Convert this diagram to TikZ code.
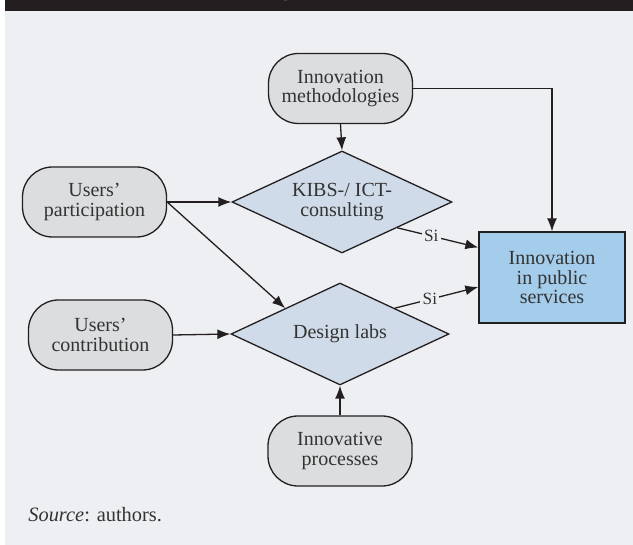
\documentclass[tikz,border=0pt]{standalone}
\usepackage{fontspec}
\setmainfont{Liberation Serif}
\usetikzlibrary{shapes.geometric,arrows.meta,calc}

\definecolor{panel}{RGB}{238,239,243}
\definecolor{ink}{RGB}{35,31,32}
\definecolor{inputfill}{RGB}{220,221,223}
\definecolor{decfill}{RGB}{208,219,233}
\definecolor{outfill}{RGB}{164,204,235}
\definecolor{txt}{RGB}{51,51,51}

\tikzset{
  inputbox/.style={draw=ink, line width=0.65pt, fill=inputfill, rounded corners=15pt,
    minimum width=72pt, minimum height=35pt, inner sep=0pt, align=center,
    text=txt, font=\fontsize{10}{9.6}\selectfont},
  decision/.style={draw=ink, line width=0.65pt, fill=decfill, diamond, aspect=2.1,
    minimum width=109pt, minimum height=51pt, inner sep=0pt, align=center,
    text=txt, font=\fontsize{10}{9.6}\selectfont},
  outcome/.style={draw=ink, line width=0.65pt, fill=outfill,
    minimum width=73pt, minimum height=45.5pt, inner sep=0pt, align=center,
    text=txt, font=\fontsize{10}{9.6}\selectfont},
  flow/.style={draw=ink, line width=0.65pt, -{Latex[length=6.5pt,width=5pt]}},
  silabel/.style={fill=panel, inner sep=1.2pt, text=txt, font=\fontsize{8.6}{9}\selectfont}
}

\begin{document}
\begin{tikzpicture}[x=0.5pt, y=-0.5pt]
  \useasboundingbox (0,0) rectangle (633,545);
  % panel and header bar
  \fill[panel] (5,0) rectangle (633,545);
  \fill[ink] (5,0) rectangle (633,11);
  \begin{scope}
    \clip (5,0) rectangle (633,11);
    \node[anchor=base, text=white, font=\fontsize{12}{12}\selectfont, inner sep=0pt] (hdr) at (286,-4) {g};
  \end{scope}

  % inputs
  \node[inputbox] (meth) at (340.5,88.5) {Innovation\\methodologies};
  \node[inputbox] (part) at (94.5,202) {Users'\\participation};
  \node[inputbox] (contr) at (100.5,335) {Users'\\contribution};
  \node[inputbox] (proc) at (340,451) {Innovative\\processes};

  % decisions
  \node[decision, minimum width=110pt] (kibs) at (342,202) {KIBS-/ ICT-\\consulting};
  \node[decision] (dlab) at (340,334) {Design labs};

  % outcome
  \node[outcome] (out) at (552,277.5) {Innovation\\in public\\services};

  % connectors
  \draw[flow] (meth.south) -- (kibs.north);
  \draw[flow] (meth.east) -| (out.north);
  \draw[flow] (part.east) -- (kibs.west);
  \draw[flow] (part.east) -- (dlab.north west);
  \draw[flow] (contr.east) -- (dlab.west);
  \draw[flow] (proc.north) -- (dlab.south);
  \draw[flow] (kibs.south east) -- node[silabel, pos=0.42] (si1) {Si} ([yshift=15pt]out.west);
  \draw[flow] (dlab.north east) -- node[silabel, pos=0.42] (si2) {Si} ([yshift=-4.75pt]out.west);

  % source line
  \node[anchor=base west, inner sep=0pt, text=txt, font=\fontsize{10.2}{12}\selectfont] (src) at (28,522) {\textit{Source}: authors.};
\end{tikzpicture}
\end{document}
